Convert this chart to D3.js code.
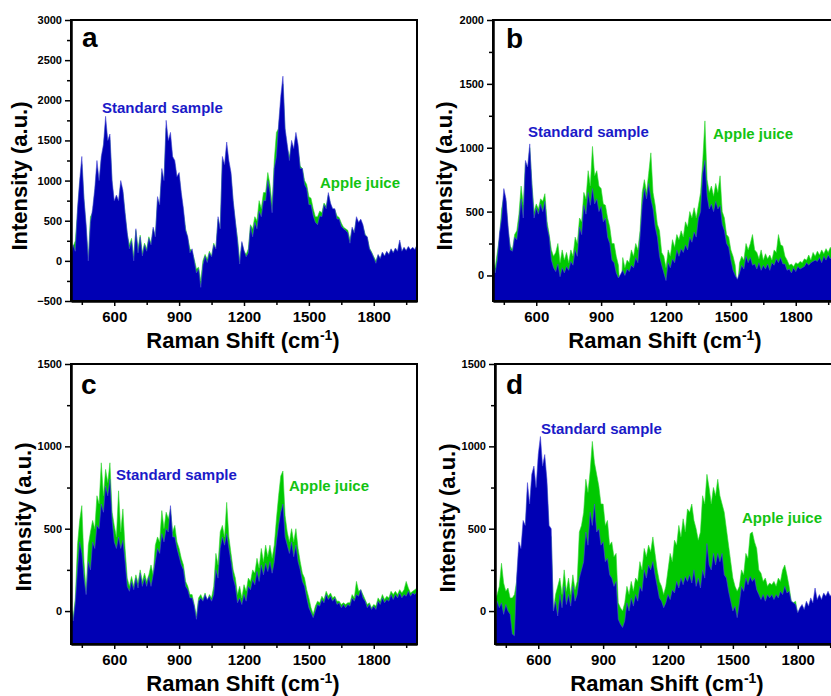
<!DOCTYPE html>
<html lang="en">
  <head>
    <meta charset="utf-8" />
    <title>Raman spectra</title>
    <script src="https://d3js.org/d3.v7.min.js"></script>
    <style>
      body { margin: 0; background: #fff; }
      svg text { font-family: "Liberation Sans", Arial, sans-serif; font-weight: bold; }
    </style>
  </head>
  <body>
    <div id="container"></div>
    <script>
      // raman shift grid (cm-1), one reading every 10 cm-1 from 400 to 2000
      var shift = d3.range(400, 2001, 10);

      // panel a
      var aStandard = [
        50, 200, 120, 650, 1000, 1300, 780, 450, 0, 480,
        650, 900, 1250, 1000, 1300, 1450, 1800, 1500, 1580, 1000,
        750, 820, 750, 1000, 880, 600, 350, 150, 250, 0,
        400, 100, 300, 60, 200, 120, 280, 200, 420, 300,
        800, 700, 1150, 1000, 1750, 1500, 1600, 1300, 1250, 1050,
        1100, 850, 650, 380, 300, 100, 150, 0, -150, -100,
        -330, -50, 60, -20, 100, 50, 200, 150, 550, 400,
        1300, 1200, 1480, 1250, 1100, 750, 500, 250, -40, 240,
        130, 50, 100, 430, 300, 480, 400, 620, 550, 750,
        750, 1000, 850, 600, 1150, 1300, 1700, 2050, 2300, 1650,
        1450, 1250, 1500, 1400, 1600, 1450, 1150, 1150, 950, 900,
        700, 700, 560, 480, 450, 560, 550, 700, 650, 850,
        720, 650, 650, 520, 520, 430, 400, 380, 350, 220,
        420, 350, 550, 480, 520, 450, 320, 300, 150, 100,
        40, -30, 80, 30, 110, 60, 120, 80, 150, 100,
        160, 120, 260, 120, 170, 130, 180, 140, 170, 140,
        200
      ];
      var aJuice = [
        40, 180, 250, 600, 950, 1200, 750, 400, 20, 550,
        600, 850, 1150, 950, 1250, 1400, 1700, 1450, 1500, 950,
        700, 780, 720, 950, 850, 580, 330, 200, 280, 60,
        380, 150, 320, 100, 220, 150, 300, 220, 400, 300,
        750, 680, 1100, 980, 1650, 1450, 1500, 1250, 1200, 1000,
        1050, 800, 600, 400, 280, 150, 120, 20, -100, -80,
        -250, 0, 80, 20, 120, 60, 220, 150, 520, 400,
        1250, 1150, 1400, 1200, 1050, 720, 480, 280, 0, 220,
        120, 80, 150, 450, 400, 550, 500, 750, 650, 850,
        850, 1100, 950, 700, 1250, 1600, 1650, 1950, 2200, 1600,
        1400, 1300, 1450, 1380, 1550, 1400, 1180, 1150, 1000, 950,
        800, 780, 650, 550, 550, 620, 600, 720, 680, 820,
        700, 640, 640, 560, 540, 470, 420, 400, 380, 260,
        400, 360, 520, 470, 500, 430, 330, 290, 160, 110,
        50, 0, 70, 30, 100, 60, 110, 80, 140, 100,
        150, 110, 230, 110, 160, 120, 170, 130, 160, 130,
        190
      ];

      // panel b
      var bStandard = [
        150, 20, 120, 330, 450, 680, 600, 380, 200, 190,
        300, 280, 420, 600, 450, 900, 850, 1030, 700, 450,
        530, 480, 560, 500, 580, 380, 300, 120, 60, 30,
        90, -10, 60, 20, 70, 40, 110, 80, 200, 150,
        380, 320, 550, 480, 650, 550, 680, 560, 600, 500,
        540, 420, 450, 300, 250, 120, 100, 20, -20, 10,
        40, 0, 50, 30, 80, 60, 140, 100, 300, 550,
        680, 600, 720, 600, 520, 380, 300, 150, 80, 20,
        -40, 100, 60, 130, 100, 200, 150, 210, 180, 240,
        200, 300, 260, 340, 300, 450, 500, 800, 900, 620,
        520, 560, 500, 580, 520, 550, 400, 350, 250, 220,
        120, 40, 0, -30, 20, 80, 50, 150, 100, 140,
        80, 90, 50, 100, 40, 80, 50, 90, 40, 100,
        80, 130, 100, 140, 90, 90, 40, 50, 20, 60,
        30, 70, 50, 60, 70, 100, 80, 100, 110, 120,
        110, 140, 100, 150, 120, 160, 130, 160, 130, 170,
        160
      ];
      var bJuice = [
        100, 60, 180, 300, 520, 620, 580, 350, 230, 200,
        320, 350, 480, 700, 550, 880, 800, 1000, 720, 500,
        560, 520, 600, 580, 640, 420, 320, 200, 150, 180,
        250, 100, 200, 120, 180, 100, 200, 150, 300, 250,
        450, 420, 650, 600, 820, 700, 1010, 780, 820, 700,
        680, 560, 550, 450, 380, 250, 250, 150, 80, -180,
        140, 60, 120, 100, 200, 150, 250, 200, 350, 650,
        750, 650, 800, 960, 650, 550, 400, 350, 180, 150,
        60, 200, 150, 280, 220, 320, 280, 350, 300, 420,
        380, 500, 450, 530, 450, 550, 650, 900, 1210, 750,
        650, 700, 620, 720, 650, 780, 500, 450, 320, 300,
        200, 150, 80, -110, 100, 150, 120, 250, 200, 250,
        320, 200, 180, 130, 200, 120, 170, 130, 160, 120,
        200, 180, 320, 240, 230, 150, 120, 80, 90, 70,
        100, 90, 110, 100, 130, 120, 160, 120, 180, 150,
        190, 160, 200, 170, 210, 180, 220, 190, 200, 210,
        210
      ];

      // panel c
      var cStandard = [
        30, -60, 50, 250, 420, 350, 200, 100, 300, 250,
        420, 380, 520, 500, 650, 600, 760, 700, 800, 550,
        420, 380, 450, 380, 430, 300, 150, 120, 180, 130,
        200, 140, 230, 150, 200, 150, 210, 150, 220, 300,
        380, 350, 470, 420, 500, 480, 640, 450, 450, 380,
        330, 280, 250, 150, 130, 80, 80, 30, -50, 60,
        80, 60, 100, 70, 90, 60, 100, 250, 200, 380,
        450, 400, 470, 380, 300, 200, 150, 50, 80, 40,
        100, 60, 150, 130, 190, 160, 240, 180, 280, 220,
        290, 240, 300, 230, 300, 420, 520, 600, 650, 450,
        400, 350, 420, 330, 400, 300, 250, 180, 150, 80,
        20, -10, -40, 0, 40, 30, 70, 50, 100, 70,
        90, 60, 80, 40, 50, 20, 40, 20, 40, 30,
        80, 60, 100, 90, 130, 80, 60, 20, 40, 10,
        30, 10, 60, 40, 80, 50, 70, 60, 100, 70,
        100, 80, 110, 80, 100, 90, 120, 90, 110, 100,
        120
      ];
      var cJuice = [
        40, -40, 80, 400, 550, 640, 300, 120, 400, 480,
        550, 500, 700, 650, 900, 700, 860, 780, 900, 600,
        520, 450, 730, 480, 620, 380, 200, 150, 210, 150,
        220, 170, 250, 180, 230, 180, 220, 280, 220, 400,
        450, 420, 610, 500, 600, 560, 620, 480, 520, 420,
        380, 320, 280, 180, 150, 100, 100, 40, -30, 80,
        100, 70, 110, 60, 100, 80, 150, 350, 280, 480,
        520, 450, 660, 450, 350, 250, 200, 100, 150, 80,
        160, 120, 200, 180, 250, 230, 320, 260, 380, 300,
        400, 330, 400, 320, 400, 560, 700, 820, 850, 580,
        480, 420, 500, 420, 500, 380, 300, 230, 200, 130,
        80, 20, -20, 30, 60, 50, 90, 70, 120, 90,
        110, 80, 90, 60, 60, 40, 50, 40, 50, 50,
        100, 80, 180, 120, 130, 100, 70, 40, 50, 20,
        40, 30, 80, 60, 100, 70, 90, 80, 120, 100,
        120, 100, 130, 110, 130, 180, 140, 110, 120, 130,
        140
      ];

      // panel d
      var dStandard = [
        -130, 60, 20, 50, -20, 40, 0, -20, -140, -150,
        200, 420, 380, 550, 520, 780, 650, 830, 880, 750,
        950, 1060, 880, 950, 800, 520, 500, 0, 60, -30,
        100, 20, 150, 40, 100, 30, 150, 60, 100, 200,
        250, 300, 480, 400, 600, 520, 650, 480, 500, 400,
        420, 300, 320, 220, 200, 150, 180, -50, -80, -100,
        -60, 50, 0, 80, 30, 100, 60, 150, 120, 250,
        200, 280, 250, 300, 220, 150, 80, 60, 20, 50,
        100, 70, 130, 110, 180, 140, 200, 160, 210, 180,
        220, 170, 250, 150, 200, 140, 250, 200, 410, 280,
        250, 350, 280, 350, 300, 350, 220, 200, 120, 60,
        0, 30, -40, 50, 150, 120, 200, 160, 210, 180,
        200, 130, 100, 70, 100, 60, 100, 80, 100, 70,
        100, 80, 120, 100, 150, 110, 120, 60, 50, 40,
        -10, 20, 40, 10, 60, 30, 80, 50, 140, 70,
        100, 70, 110, 90, 120, 90, 110, 100, 130, 110,
        120
      ];
      var dJuice = [
        60, 100, 150, 290, 170, 120, 140, 80, 80, 100,
        180, 350, 320, 500, 480, 720, 600, 780, 820, 700,
        880, 980, 820, 900, 750, 480, 450, 0, 100, 150,
        200, 100, 250, 120, 200, 100, 220, 130, 180, 480,
        520, 600, 800, 720, 850, 1030, 900, 830, 760, 650,
        650, 520, 550, 400, 420, 330, 350, 50, 20, 0,
        50, 150, 100, 180, 120, 200, 180, 300, 250, 380,
        330, 400, 360, 450, 350, 250, 180, 150, 100, 150,
        250, 350, 300, 430, 400, 520, 450, 560, 480, 620,
        600, 650, 550, 500, 430, 480, 700, 650, 830, 750,
        650, 750, 700, 800, 700, 650, 600, 500, 400, 300,
        200, 150, 120, 150, 250, 220, 350, 320, 470, 480,
        420, 380, 250, 230, 180, 200, 150, 170, 160, 180,
        150, 200, 180, 250, 280, 220, 150, 60, 50, 60,
        -20, 10, 30, 0, 50, 20, 60, 40, 100, 60,
        90, 60, 100, 80, 110, 80, 90, 90, 100, 100,
        110
      ];

      // tick labels
      var xTicks = [600, 900, 1200, 1500, 1800];
      var xMinorTicks = [450, 750, 1050, 1350, 1650, 1950];
      var yTicksA = [-500, 0, 500, 1000, 1500, 2000, 2500, 3000];
      var yMinorA = [-250, 250, 750, 1250, 1750, 2250, 2750];
      var yTicksB = [0, 500, 1000, 1500, 2000];
      var yMinorB = [250, 750, 1250, 1750];
      var yTicksCD = [0, 500, 1000, 1500];
      var yMinorCD = [250, 750, 1250];

      var blue = "#0000b4";
      var green = "#00c800";

      var svg = d3
        .select("#container")
        .append("svg")
        .attr("width", 831)
        .attr("height", 696);

      var panels = [
        { name: "a", left: 71, right: 417, top: 20, bottom: 301, yDomain: [-500, 3000],
          yTicks: yTicksA, yMinor: yMinorA, standard: aStandard, juice: aJuice,
          letter: [82, 47], std: [102, 113], apple: [320, 188], yTitle: [19, 176] },
        { name: "b", left: 493, right: 839, top: 20, bottom: 301, yDomain: [-200, 2000],
          yTicks: yTicksB, yMinor: yMinorB, standard: bStandard, juice: bJuice,
          letter: [506, 48], std: [528, 137], apple: [713, 139], yTitle: [444, 176] },
        { name: "c", left: 71, right: 417, top: 364, bottom: 644, yDomain: [-200, 1500],
          yTicks: yTicksCD, yMinor: yMinorCD, standard: cStandard, juice: cJuice,
          letter: [81, 394], std: [116, 480], apple: [289, 491], yTitle: [23, 517] },
        { name: "d", left: 495, right: 841, top: 364, bottom: 644, yDomain: [-200, 1500],
          yTicks: yTicksCD, yMinor: yMinorCD, standard: dStandard, juice: dJuice,
          letter: [506, 394], std: [541, 434], apple: [742, 523], yTitle: [447, 518] }
      ];

      var fmt = d3.format("d");

      panels.forEach(function (p, i) {
        var x = d3.scaleLinear().domain([400, 2000]).range([p.left, p.right]);
        var y = d3.scaleLinear().domain(p.yDomain).range([p.bottom, p.top]);

        svg
          .append("clipPath")
          .attr("id", "clip" + i)
          .append("rect")
          .attr("x", p.left)
          .attr("y", p.top)
          .attr("width", p.right - p.left)
          .attr("height", p.bottom - p.top);

        var area = d3
          .area()
          .x(function (d) { return x(d[0]); })
          .y0(p.bottom)
          .y1(function (d) { return y(d[1]); });

        var g = svg.append("g").attr("clip-path", "url(#clip" + i + ")");

        // apple juice behind, standard sample on top
        g.append("path")
          .datum(d3.zip(shift, p.juice))
          .attr("d", area)
          .attr("fill", green)
          .attr("stroke", "#33d633")
          .attr("stroke-width", 0.6);

        g.append("path")
          .datum(d3.zip(shift, p.standard))
          .attr("d", area)
          .attr("fill", blue)
          .attr("stroke", "#4a4ad8")
          .attr("stroke-width", 0.6);

        // axes
        var xAxis = svg
          .append("g")
          .attr("transform", "translate(0," + p.bottom + ")")
          .call(d3.axisBottom(x).tickValues(xTicks).tickFormat(fmt).tickSize(5).tickSizeOuter(0).tickPadding(5));
        xAxis.selectAll("text").style("font-size", "15px");

        svg
          .append("g")
          .attr("transform", "translate(0," + p.bottom + ")")
          .call(d3.axisBottom(x).tickValues(xMinorTicks).tickSize(4).tickSizeOuter(0).tickFormat(""));

        var yAxis = svg
          .append("g")
          .attr("transform", "translate(" + p.left + ",0)")
          .call(d3.axisLeft(y).tickValues(p.yTicks).tickFormat(fmt).tickSize(6).tickSizeOuter(0).tickPadding(3));
        yAxis.selectAll("text").style("font-size", "11px");

        svg
          .append("g")
          .attr("transform", "translate(" + p.left + ",0)")
          .call(d3.axisLeft(y).tickValues(p.yMinor).tickSize(4).tickSizeOuter(0).tickFormat(""));

        svg.selectAll(".domain").attr("stroke-width", 2);
        svg.selectAll(".tick line").attr("stroke-width", 1.5);

        // frame
        svg
          .append("rect")
          .attr("x", p.left)
          .attr("y", p.top)
          .attr("width", p.right - p.left)
          .attr("height", p.bottom - p.top)
          .attr("fill", "none")
          .attr("stroke", "#000")
          .attr("stroke-width", 2);

        svg.append("text")
          .attr("x", p.letter[0])
          .attr("y", p.letter[1])
          .style("font-size", "28px")
          .text(p.name);

        svg.append("text")
          .attr("x", p.std[0])
          .attr("y", p.std[1])
          .attr("fill", "#1a1ac8")
          .style("font-size", "15px")
          .text("Standard sample");

        svg.append("text")
          .attr("x", p.apple[0])
          .attr("y", p.apple[1])
          .attr("fill", "#12c312")
          .style("font-size", "15px")
          .text("Apple juice");

        // axis titles
        svg.append("text")
          .attr("transform", "translate(" + p.yTitle[0] + "," + p.yTitle[1] + ") rotate(-90)")
          .attr("text-anchor", "middle")
          .attr("dominant-baseline", "central")
          .style("font-size", "22px")
          .text("Intensity (a.u.)");

        var xt = svg.append("text")
          .attr("x", (p.left + p.right) / 2 - 1)
          .attr("y", p.bottom + 47)
          .attr("text-anchor", "middle")
          .style("font-size", "22px");
        xt.append("tspan").text("Raman Shift (cm");
        xt.append("tspan").attr("dy", -8).style("font-size", "14px").text("-1");
        xt.append("tspan").attr("dy", 8).text(")");
      });
    </script>
  </body>
</html>
